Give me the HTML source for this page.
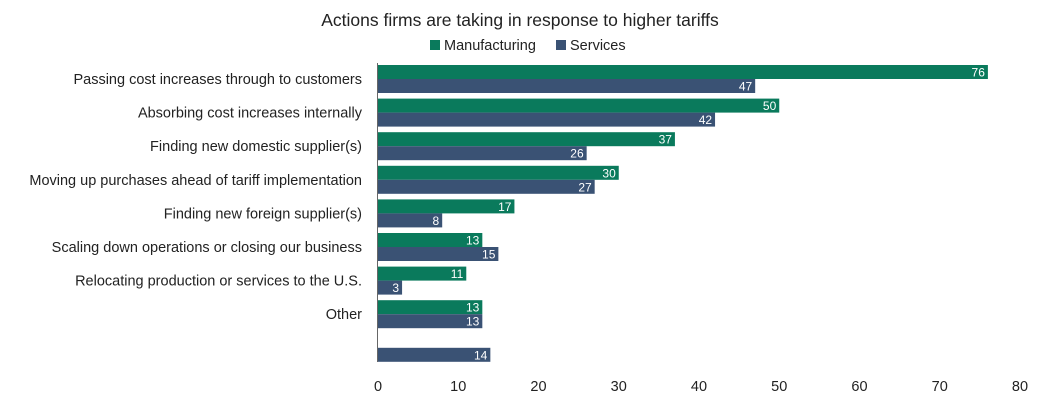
<!DOCTYPE html>
<html><head><meta charset="utf-8"><style>
body{margin:0;background:#fff;font-family:"Liberation Sans",sans-serif}
svg text{font-family:"Liberation Sans",sans-serif}
</style></head><body>
<svg width="1047" height="404">
<text x="520" y="26" text-anchor="middle" font-size="17.5" fill="#222">Actions firms are taking in response to higher tariffs</text>
<g>
<rect x="430" y="40" width="10" height="10" fill="#0a7a5c"/>
<text x="444" y="50" font-size="14.5" fill="#222">Manufacturing</text>
<rect x="556" y="40" width="10" height="10" fill="#3a5274"/>
<text x="570" y="50" font-size="14.5" fill="#222">Services</text>
</g>
<g id="plot"></g>
</svg>
<script>
const categories=["Passing cost increases through to customers","Absorbing cost increases internally","Finding new domestic supplier(s)","Moving up purchases ahead of tariff implementation","Finding new foreign supplier(s)","Scaling down operations or closing our business","Relocating production or services to the U.S.","Other",""];
const manufacturing=[76,50,37,30,17,13,11,13,null];
const services=[47,42,26,27,8,15,3,13,14];
const ticks=[0,10,20,30,40,50,60,70,80];
const NS="http://www.w3.org/2000/svg";
const g=document.getElementById('plot');
const x=v=>378+v*(1020-378)/80;
const yc=i=>79+33.6*i;
function mk(t,a){const e=document.createElementNS(NS,t);for(const k in a)e.setAttribute(k,a[k]);g.appendChild(e);return e;}
categories.forEach((c,i)=>{
  if(c){const t=mk('text',{x:362,y:yc(i)+5,'text-anchor':'end','font-size':14.5,fill:'#222'});t.textContent=c;
  
  }
  [[manufacturing,'#0a7a5c',-14,'manufacturing'],[services,'#3a5274',0,'services']].forEach(([arr,col,off,nm])=>{
    const v=arr[i];if(v==null)return;
    const r=mk('rect',{x:x(0),y:yc(i)+off,width:x(v)-x(0),height:14,fill:col});
    
    
    const t=mk('text',{x:x(v)-3,y:yc(i)+off+11.5,'text-anchor':'end','font-size':12,fill:'#fff'});t.textContent=v;
    
    
  });
});
const ax=mk('line',{x1:377.5,x2:377.5,y1:63,y2:362,stroke:'#666','stroke-width':1});


ticks.forEach(v=>{const t=mk('text',{x:x(v),y:391,'text-anchor':'middle','font-size':14.5,fill:'#222'});t.textContent=v;

});
</script>
</body></html>
